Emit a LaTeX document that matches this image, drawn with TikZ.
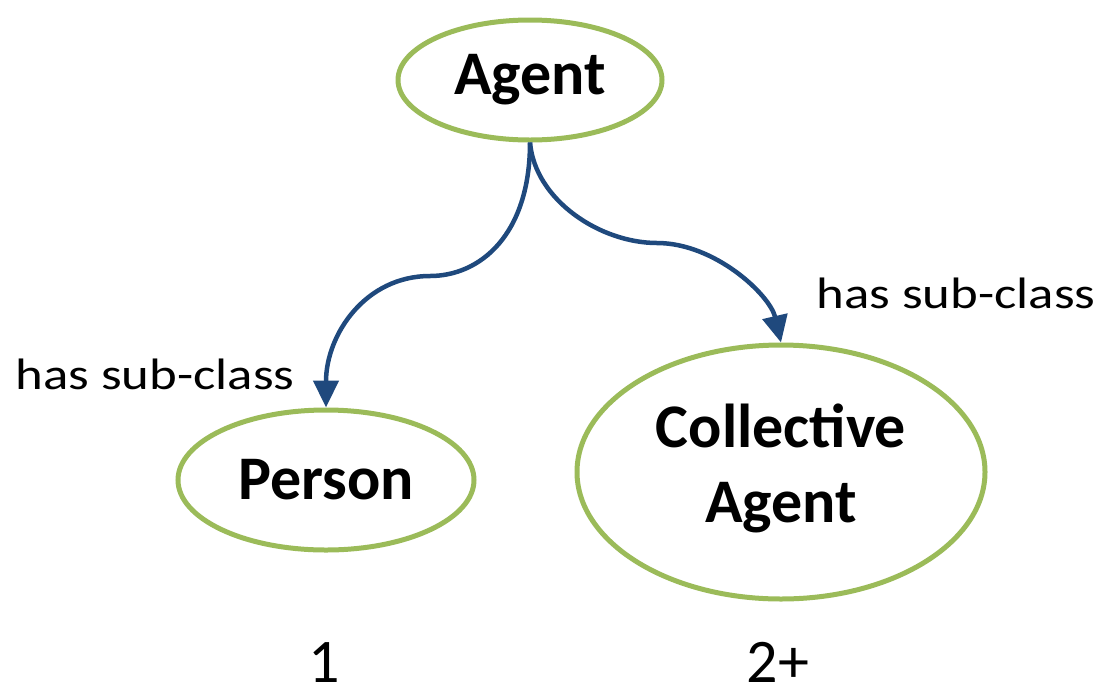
\documentclass[tikz,border=0pt]{standalone}
\usepackage{fontspec}
\setmainfont{Carlito}
\usetikzlibrary{arrows.meta,shapes.geometric}
\definecolor{ellgreen}{HTML}{9BBB59}
\definecolor{arrblue}{HTML}{1F497D}
\begin{document}
\begin{tikzpicture}[x=1pt,y=-1pt,
  clsfont/.style={font=\fontsize{62}{75}\selectfont\bfseries},
  cls/.style={ellipse,draw=ellgreen,line width=5pt,inner sep=0pt,align=center,clsfont},
  rel/.style={draw=arrblue,line width=4.5pt,-{Triangle[width=25pt,length=27pt]}},
  lbl/.style={font=\fontsize{44}{48}\selectfont,inner sep=0pt,anchor=base},
  num/.style={font=\fontsize{62}{64}\selectfont,inner sep=0pt,anchor=base,text depth=0pt}]
\useasboundingbox (0,0) rectangle (1103,689);
\node[cls,minimum width=264pt,minimum height=120pt] (agent) at (530,80) {Agent};
\node[cls,minimum width=296pt,minimum height=140pt] (person) at (326,480) {Person};
\node[cls,minimum width=408pt,minimum height=254pt,
  label={[clsfont,align=center,inner sep=0pt,yshift=4pt]center:Collective\\Agent}] (coll) at (781,472) {};
\coordinate (lm) at (430,276);
\coordinate (rm) at (657,243);
\draw[rel] (agent.south) .. controls (530,235) and (480,276) .. (lm)
  .. controls (365,276) and (326,335) .. (person.north);
\draw[rel] (agent.south) .. controls (535,200) and (600,243) .. (rm)
  .. controls (715,243) and (770,295) .. (coll.north);
\node[lbl] (l1) at (155,389) {\scalebox{1.2}[1]{has sub-class}};
\node[lbl] (l2) at (956,308) {\scalebox{1.2}[1]{has sub-class}};
\node[num] (n1) at (324,682) {1};
\node[num] (n2) at (778,682) {2+};
\end{tikzpicture}
\end{document}
